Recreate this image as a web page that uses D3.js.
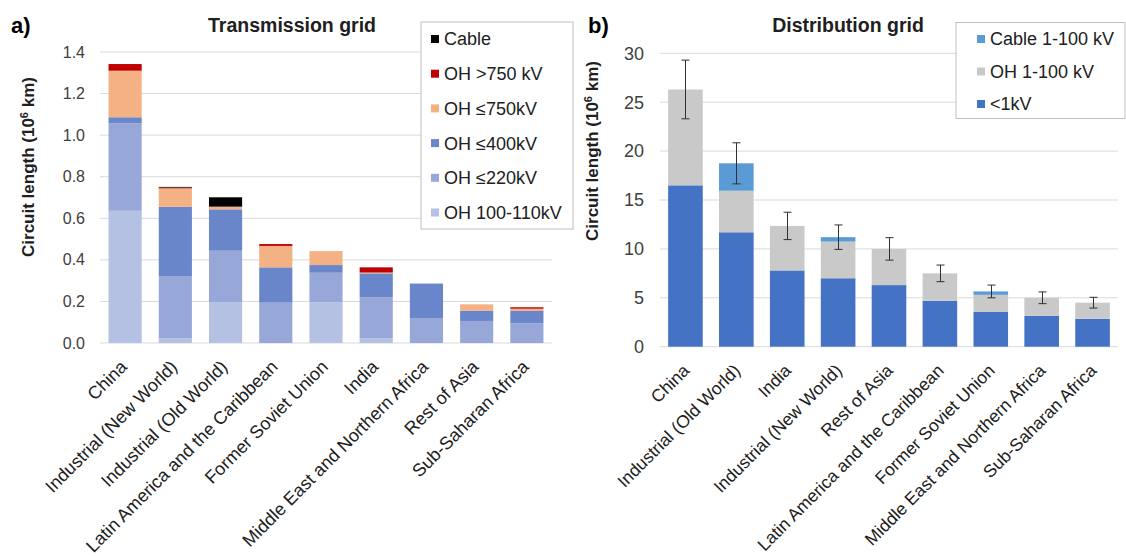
<!DOCTYPE html>
<html>
<head>
<meta charset="utf-8">
<script src="https://cdn.jsdelivr.net/npm/d3@7"></script>
<style>
  body { margin: 0; background: #fff; }
  svg { font-family: "Liberation Sans", Arial, sans-serif; }
</style>
</head>
<body>
<svg id="chart" width="1126" height="556"></svg>
<script>
//--- data: transmission grid (segment lengths, 10^6 km)
var transRegions = ["China", "Industrial (New World)", "Industrial (Old World)",
  "Latin America and the Caribbean", "Former Soviet Union", "India",
  "Middle East and Northern Africa", "Rest of Asia", "Sub-Saharan Africa"];
var transKeys = ["OH 100-110kV", "OH ≤220kV", "OH ≤400kV", "OH ≤750kV", "OH >750 kV", "Cable"];
var oh110 = [0.636, 0.022, 0.195, 0, 0.196, 0.022, 0, 0, 0];
var oh220 = [0.421, 0.300, 0.249, 0.194, 0.142, 0.198, 0.120, 0.106, 0.095];
var oh400 = [0.029, 0.333, 0.199, 0.170, 0.037, 0.115, 0.166, 0.049, 0.059];
var oh750 = [0.224, 0.089, 0.013, 0.103, 0.067, 0.004, 0, 0.031, 0.011];
var ohOver750 = [0.032, 0.004, 0, 0.009, 0, 0.025, 0, 0, 0.007];
var transCable = [0, 0.003, 0.045, 0, 0, 0, 0, 0, 0];
var transTicks = [0, 0.2, 0.4, 0.6, 0.8, 1.0, 1.2, 1.4];

//--- data: distribution grid
var distRegions = ["China", "Industrial (Old World)", "India", "Industrial (New World)",
  "Rest of Asia", "Latin America and the Caribbean", "Former Soviet Union",
  "Middle East and Northern Africa", "Sub-Saharan Africa"];
var distKeys = ["<1kV", "OH 1-100 kV", "Cable 1-100 kV"];
var lowVoltage = [16.5, 11.7, 7.8, 7.0, 6.3, 4.7, 3.55, 3.15, 2.85];
var ohDist = [9.8, 4.25, 4.55, 3.75, 3.7, 2.8, 1.75, 1.85, 1.65];
var cableDist = [0, 2.8, 0, 0.45, 0, 0, 0.35, 0, 0];
var distError = [3.0, 2.1, 1.4, 1.25, 1.15, 0.85, 0.65, 0.6, 0.55];
var distTicks = [0, 5, 10, 15, 20, 25, 30];

var transColors = ["#b4c1e3", "#97a8d8", "#6a86cb", "#f4b183", "#c00000", "#000000"];
var distColors = ["#4472c4", "#c9c9c9", "#5b9bd5"];

var svg = d3.select("#chart");

//draws one stacked panel
function drawPanel(opt) {
  var g = svg.append("g");
  var x = d3.scaleBand().domain(opt.regions).range([opt.left, opt.right])
    .paddingInner(opt.pad).paddingOuter(opt.pad / 2);
  var y = d3.scaleLinear().domain([0, opt.max]).range([opt.bottom, opt.top]);

  //gridlines
  g.selectAll("line.grid").data(opt.ticks).enter().append("line")
    .attr("x1", opt.left).attr("x2", opt.right)
    .attr("y1", function(d) { return y(d); }).attr("y2", function(d) { return y(d); })
    .attr("stroke", "#d9d9d9").attr("stroke-width", 1);

  //y tick labels
  g.selectAll("text.tick").data(opt.ticks).enter().append("text")
    .attr("x", opt.left - opt.tickGap).attr("y", function(d) { return y(d); })
    .attr("dy", "0.35em").attr("text-anchor", "end")
    .attr("font-size", opt.tickSize).attr("fill", "#404040")
    .text(function(d) { return opt.fmt(d); });

  //stacked bars
  var rows = opt.regions.map(function(r, i) {
    var o = {region: r};
    opt.keys.forEach(function(k, j) { o[k] = opt.series[j][i]; });
    return o;
  });
  var stacked = d3.stack().keys(opt.keys)(rows);
  g.selectAll("g.layer").data(stacked).enter().append("g")
    .attr("fill", function(d, i) { return opt.colors[i]; })
    .selectAll("rect").data(function(d) { return d; }).enter().append("rect")
    .attr("x", function(d) { return x(d.data.region); })
    .attr("width", x.bandwidth())
    .attr("y", function(d) { return y(d[1]); })
    .attr("height", function(d) { return y(d[0]) - y(d[1]); });

  //error bars
  if (opt.error) {
    var tops = rows.map(function(r) {
      return d3.sum(opt.keys, function(k) { return r[k]; });
    });
    var eg = g.append("g").attr("stroke", "#303030").attr("stroke-width", 1);
    opt.regions.forEach(function(r, i) {
      var cx = Math.round(x(r) + x.bandwidth() / 2) + 0.5;
      var hi = y(tops[i] + opt.error[i]), lo = y(tops[i] - opt.error[i]);
      eg.append("line").attr("x1", cx).attr("x2", cx).attr("y1", hi).attr("y2", lo);
      eg.append("line").attr("x1", cx - 4).attr("x2", cx + 4).attr("y1", hi).attr("y2", hi);
      eg.append("line").attr("x1", cx - 4).attr("x2", cx + 4).attr("y1", lo).attr("y2", lo);
    });
  }

  //x labels, rotated
  g.selectAll("text.xl").data(opt.regions).enter().append("text")
    .attr("transform", function(d) {
      return "translate(" + (x(d) + x.bandwidth() / 2 + opt.xlShift) + "," + (opt.bottom + 25) + ") rotate(-45)";
    })
    .attr("text-anchor", "end")
    .attr("font-size", opt.xlSize).attr("fill", "#202020")
    .text(function(d) { return d; });

  //y axis title
  var yt = g.append("text")
    .attr("transform", "translate(" + opt.ytX + "," + opt.ytY + ") rotate(-90)")
    .attr("text-anchor", "middle").attr("font-size", 17).attr("font-weight", "bold")
    .attr("fill", "#202020");
  yt.append("tspan").text("Circuit length (10");
  yt.append("tspan").attr("font-size", 11).attr("dy", -6).text("6");
  yt.append("tspan").attr("dy", 6).text(" km)");

  //title and panel letter
  g.append("text").attr("x", opt.titleX).attr("y", 32).attr("text-anchor", "middle")
    .attr("font-size", 19.5).attr("font-weight", "bold").attr("fill", "#202020").text(opt.title);
  g.append("text").attr("x", opt.letterX).attr("y", 33)
    .attr("font-size", 22).attr("font-weight", "bold").attr("fill", "#000").text(opt.letter);

  //legend
  var lg = g.append("g");
  lg.append("rect").attr("x", opt.legend.x).attr("y", opt.legend.y)
    .attr("width", opt.legend.w).attr("height", opt.legend.h)
    .attr("fill", "#fff").attr("stroke", "#bfbfbf");
  opt.legend.order.forEach(function(k, i) {
    var j = opt.keys.indexOf(k);
    var cy = opt.legend.y + opt.legend.first + i * opt.legend.step;
    lg.append("rect").attr("x", opt.legend.x + opt.legend.sq).attr("y", cy - 4)
      .attr("width", 8).attr("height", 8).attr("fill", opt.colors[j]);
    lg.append("text").attr("x", opt.legend.x + opt.legend.sq + 13).attr("y", cy).attr("dy", "0.36em")
      .attr("font-size", opt.legend.fs).attr("fill", "#202020").text(k);
  });
}

drawPanel({
  regions: transRegions, keys: transKeys, colors: transColors,
  series: [oh110, oh220, oh400, oh750, ohOver750, transCable],
  ticks: transTicks, max: 1.4, fmt: d3.format(".1f"), tickSize: 16, tickGap: 15,
  left: 100, right: 552, top: 52, bottom: 343, pad: 0.34, xlSize: 18, xlShift: 3,
  ytX: 34, ytY: 167, title: "Transmission grid", titleX: 292, letter: "a)", letterX: 11,
  legend: {x: 421, y: 22, w: 152, h: 207, first: 17, step: 34.7, fs: 18, sq: 10,
    order: ["Cable", "OH >750 kV", "OH ≤750kV", "OH ≤400kV", "OH ≤220kV", "OH 100-110kV"]}
});

drawPanel({
  regions: distRegions, keys: distKeys, colors: distColors,
  series: [lowVoltage, ohDist, cableDist], error: distError,
  ticks: distTicks, max: 30, fmt: d3.format("d"), tickSize: 18, tickGap: 16,
  left: 660, right: 1118, top: 53.3, bottom: 346.7, pad: 0.32, xlSize: 17.5, xlShift: 5,
  ytX: 598, ytY: 151, title: "Distribution grid", titleX: 848, letter: "b)", letterX: 588,
  legend: {x: 956, y: 22.5, w: 169, h: 96, first: 16.5, step: 32.5, fs: 18, sq: 21,
    order: ["Cable 1-100 kV", "OH 1-100 kV", "<1kV"]}
});
</script>
</body>
</html>
